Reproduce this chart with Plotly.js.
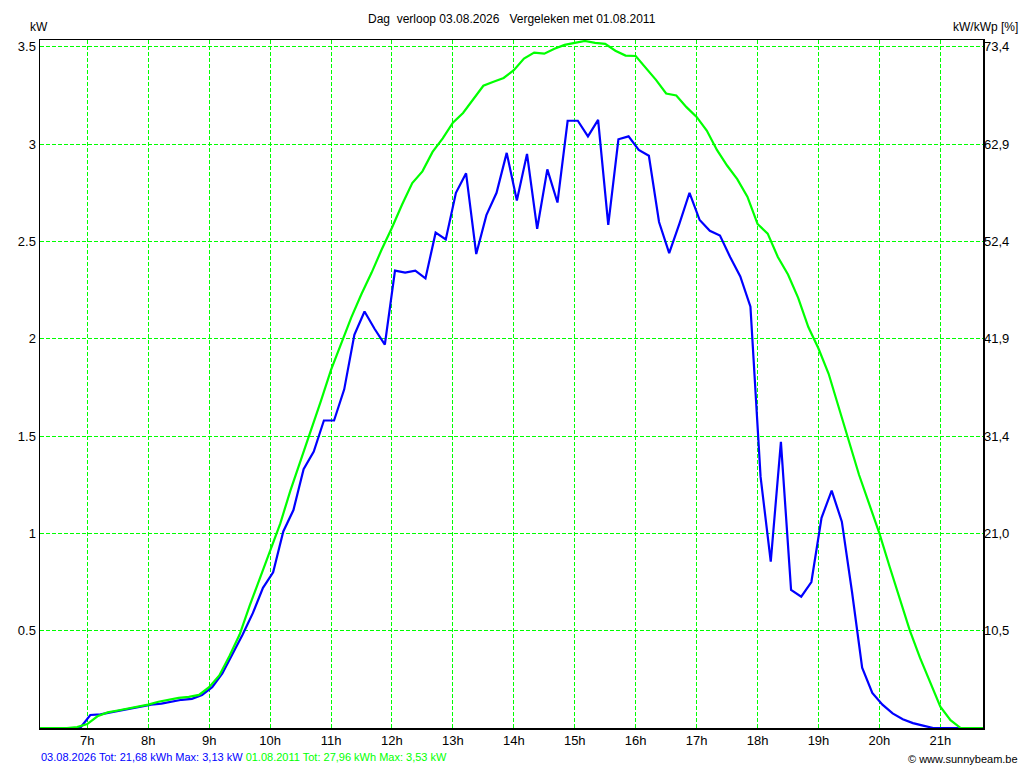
<!DOCTYPE html>
<html>
<head>
<meta charset="utf-8">
<script src="https://cdn.plot.ly/plotly-3.0.1.min.js"></script>
<style>
  html, body { margin: 0; padding: 0; background: #fff; }
  #chart { width: 1024px; height: 768px; }
</style>
</head>
<body>
<div id="chart"></div>
<script>
// 03.08.2026, 10-minute values (kW)
const blueTimes = ['06:14', '06:53', '07:03', '07:13', '07:23', '07:33', '07:43', '07:53',
    '08:03', '08:13', '08:23', '08:33', '08:43', '08:53', '09:03', '09:13', '09:23', '09:33',
    '09:43', '09:53', '10:03', '10:13', '10:23', '10:33', '10:43', '10:53', '11:03', '11:13',
    '11:23', '11:33', '11:43', '11:53', '12:03', '12:13', '12:23', '12:33', '12:43', '12:53',
    '13:03', '13:13', '13:23', '13:33', '13:43', '13:53', '14:03', '14:13', '14:23', '14:33',
    '14:43', '14:53', '15:03', '15:13', '15:23', '15:33', '15:43', '15:53', '16:03', '16:13',
    '16:23', '16:33', '16:43', '16:53', '17:03', '17:13', '17:23', '17:33', '17:43', '17:53',
    '18:03', '18:13', '18:23', '18:33', '18:43', '18:53', '19:03', '19:13', '19:23', '19:33',
    '19:43', '19:53', '20:03', '20:13', '20:23', '20:33', '20:43', '20:53', '21:03', '21:13',
    '21:23'];
const blueValues = [0, 0, 0.067, 0.07, 0.08, 0.09, 0.10, 0.11,
    0.12, 0.125, 0.135, 0.145, 0.15, 0.17, 0.21, 0.28, 0.38, 0.48,
    0.59, 0.72, 0.80, 1.01, 1.12, 1.33, 1.42, 1.58, 1.58, 1.74,
    2.02, 2.14, 2.05, 1.97, 2.35, 2.34, 2.35, 2.31, 2.545, 2.51,
    2.75, 2.85, 2.435, 2.635, 2.75, 2.955, 2.71, 2.95, 2.565, 2.87,
    2.70, 3.12, 3.12, 3.04, 3.125, 2.585, 3.025, 3.04, 2.97, 2.94,
    2.60, 2.44, 2.59, 2.75, 2.61, 2.555, 2.53, 2.42, 2.32, 2.165,
    1.29, 0.855, 1.47, 0.71, 0.675, 0.75, 1.08, 1.22, 1.06, 0.70,
    0.31, 0.18, 0.12, 0.075, 0.045, 0.025, 0.012, 0.0, 0,
    0, 0];

// 01.08.2011 reference day (kW)
const greenTimes = ['06:13', '06:20', '06:30', '06:40', '06:50', '07:00', '07:10', '07:20',
    '07:30', '07:40', '07:50', '08:00', '08:10', '08:20', '08:30', '08:40', '08:50', '09:00',
    '09:10', '09:20', '09:30', '09:40', '09:50', '10:00', '10:10', '10:20', '10:30', '10:40',
    '10:50', '11:00', '11:10', '11:20', '11:30', '11:40', '11:50', '12:00', '12:10', '12:20',
    '12:30', '12:40', '12:50', '13:00', '13:10', '13:20', '13:30', '13:40', '13:50', '14:00',
    '14:10', '14:20', '14:30', '14:40', '14:50', '15:00', '15:10', '15:20', '15:30', '15:40',
    '15:50', '16:00', '16:10', '16:20', '16:30', '16:40', '16:50', '17:00', '17:10', '17:20',
    '17:30', '17:40', '17:50', '18:00', '18:10', '18:20', '18:30', '18:40', '18:50', '19:00',
    '19:10', '19:20', '19:30', '19:40', '19:50', '20:00', '20:10', '20:20', '20:30', '20:40',
    '20:50', '21:00', '21:10', '21:20', '21:30', '21:42'];
const greenValues = [0, 0, 0, 0, 0.005, 0.02, 0.06, 0.08,
    0.09, 0.10, 0.11, 0.12, 0.135, 0.145, 0.155, 0.16, 0.17, 0.21,
    0.27, 0.37, 0.48, 0.63, 0.77, 0.91, 1.05, 1.22, 1.37, 1.52,
    1.68, 1.84, 1.98, 2.11, 2.23, 2.34, 2.46, 2.57, 2.69, 2.80,
    2.86, 2.96, 3.03, 3.11, 3.16, 3.23, 3.30, 3.32, 3.34, 3.38,
    3.44, 3.47, 3.465, 3.49, 3.51, 3.52, 3.53, 3.52, 3.515, 3.48,
    3.455, 3.453, 3.39, 3.33, 3.26, 3.25, 3.19, 3.14, 3.07, 2.97,
    2.89, 2.82, 2.73, 2.59, 2.54, 2.42, 2.33, 2.21, 2.06, 1.95,
    1.82, 1.65, 1.48, 1.30, 1.15, 1.00, 0.83, 0.66, 0.50, 0.36,
    0.23, 0.11, 0.04, 0.0, 0, 0];

const hourTicks = [7, 8, 9, 10, 11, 12, 13, 14, 15, 16, 17, 18, 19, 20, 21];
const kwTicks = [0.5, 1, 1.5, 2, 2.5, 3, 3.5];
const kwLabels = ['0.5', '1', '1.5', '2', '2.5', '3', '3.5'];
const pctLabels = ['10,5', '21,0', '31,4', '41,9', '52,4', '62,9', '73,4'];

function toHours(t) {
    const p = t.split(':');
    return parseInt(p[0], 10) + parseInt(p[1], 10) / 60;
}

const fontFam = '"Liberation Sans", Arial, sans-serif';
const gridGreen = '#00ff00';

const blueTrace = {
    x: blueTimes.map(toHours),
    y: blueValues,
    type: 'scatter',
    mode: 'lines',
    line: { color: '#0000ff', width: 2.2 },
    hoverinfo: 'skip'
};

const greenTrace = {
    x: greenTimes.map(toHours),
    y: greenValues,
    type: 'scatter',
    mode: 'lines',
    line: { color: '#00ff00', width: 2.2 },
    hoverinfo: 'skip'
};

// invisible trace so the right axis is drawn
const rightAxisTrace = {
    x: [7], y: [0], yaxis: 'y2', type: 'scatter', mode: 'markers',
    marker: { opacity: 0 }, hoverinfo: 'skip'
};

const yRange = [0, 3.535];

const layout = {
    width: 1024,
    height: 768,
    margin: { l: 40, r: 41, t: 40, b: 40 },
    paper_bgcolor: '#ffffff',
    plot_bgcolor: '#ffffff',
    showlegend: false,
    hovermode: false,
    font: { family: fontFam, size: 13, color: '#000' },
    xaxis: {
        range: [6.224, 21.70],
        tickvals: hourTicks,
        ticktext: hourTicks.map(h => h + 'h'),
        showgrid: true,
        gridcolor: gridGreen,
        gridwidth: 1,
        griddash: '4px,2px',
        zeroline: false,
        showline: true,
        linecolor: '#000',
        linewidth: 1.5,
        mirror: true,
        ticks: '',
        tickfont: { size: 13 }
    },
    yaxis: {
        range: yRange,
        tickvals: kwTicks,
        ticktext: kwLabels,
        showgrid: true,
        gridcolor: gridGreen,
        gridwidth: 1,
        griddash: '4px,2px',
        zeroline: false,
        showline: true,
        linecolor: '#000',
        linewidth: 1.5,
        mirror: true,
        ticks: '',
        tickfont: { size: 13 }
    },
    yaxis2: {
        range: yRange,
        overlaying: 'y',
        side: 'right',
        tickvals: kwTicks,
        ticktext: pctLabels,
        showgrid: false,
        zeroline: false,
        showline: false,
        ticks: '',
        tickfont: { size: 13 }
    },
    annotations: [
        {
            text: 'Dag\u00a0\u00a0verloop 03.08.2026\u00a0\u00a0\u00a0Vergeleken met 01.08.2011',
            xref: 'paper', yref: 'paper', x: 0.5005, y: 1.0305,
            xanchor: 'center', yanchor: 'middle', showarrow: false,
            font: { size: 12 }
        },
        {
            text: 'kW',
            xref: 'paper', yref: 'paper', x: -0.001, y: 1.019,
            xanchor: 'center', yanchor: 'middle', showarrow: false,
            font: { size: 12 }
        },
        {
            text: 'kW/kWp [%]',
            xref: 'paper', yref: 'paper', x: 1.0395, y: 1.019,
            xanchor: 'right', yanchor: 'middle', showarrow: false,
            font: { size: 12 }
        },
        {
            text: '<span style="color:#0000ff">03.08.2026 Tot: 21,68 kWh Max: 3,13 kW</span>' +
                  '<span style="color:#00ff00"> 01.08.2011 Tot: 27,96 kWh Max: 3,53 kW</span>',
            xref: 'paper', yref: 'paper', x: -0.001, y: -0.042,
            xanchor: 'left', yanchor: 'middle', showarrow: false,
            font: { size: 11 }
        },
        {
            text: '© www.sunnybeam.be',
            xref: 'paper', yref: 'paper', x: 1.0395, y: -0.045,
            xanchor: 'right', yanchor: 'middle', showarrow: false,
            font: { size: 11 }
        }
    ]
};

Plotly.newPlot('chart', [rightAxisTrace, blueTrace, greenTrace], layout, { staticPlot: true });
</script>
</body>
</html>
